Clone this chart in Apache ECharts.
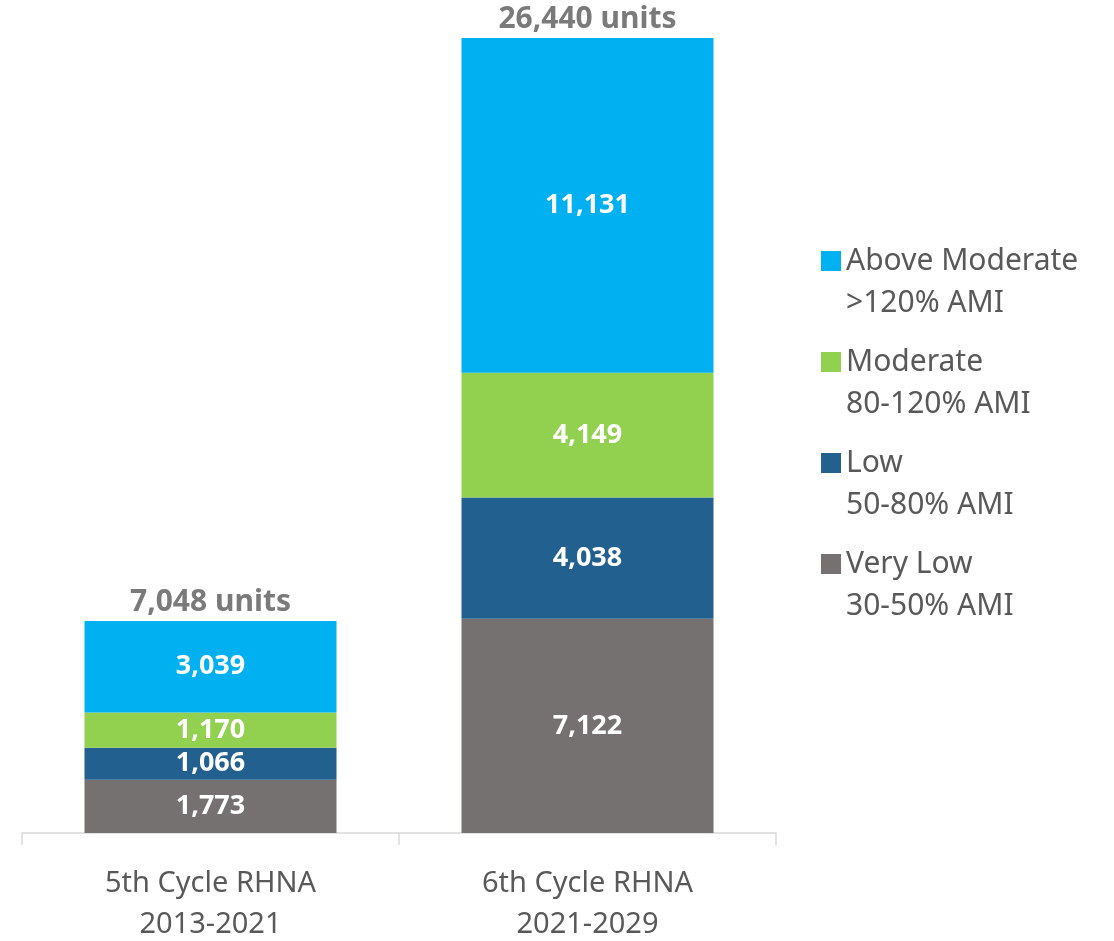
<!DOCTYPE html>
<html>
<head>
<meta charset="utf-8">
<script src="https://cdn.jsdelivr.net/npm/echarts@6/dist/echarts.min.js"></script>
<style>
  html, body { margin: 0; padding: 0; background: #fff; }
  #chart { width: 1114px; height: 941px; }
</style>
</head>
<body>
<div id="chart"></div>
<script>
const categories = ['5th Cycle RHNA\n2013-2021', '6th Cycle RHNA\n2021-2029'];
const veryLow = [1773, 7122];
const low = [1066, 4038];
const moderate = [1170, 4149];
const aboveModerate = [3039, 11131];
const totals = [7048, 26440];

const seriesNames = ['Very Low', 'Low', 'Moderate', 'Above Moderate'];
const seriesSub = {
  'Very Low': '30-50% AMI',
  'Low': '50-80% AMI',
  'Moderate': '80-120% AMI',
  'Above Moderate': '>120% AMI'
};
const colors = ['#767171', '#22608F', '#92D050', '#00B0F0'];

const font = '"Segoe UI", "Noto Sans", sans-serif';
const fmt = v => v.toLocaleString('en-US');

const chart = echarts.init(document.getElementById('chart'));

const barLabel = {
  show: true,
  position: 'inside',
  color: '#fff',
  fontWeight: 'bold',
  fontSize: 27,
  fontFamily: font,
  formatter: p => fmt(p.value)
};

const stacks = [veryLow, low, moderate, aboveModerate].map((d, i) => ({
  name: seriesNames[i],
  type: 'bar',
  stack: 'units',
  barWidth: 252,
  data: d,
  itemStyle: { color: colors[i] },
  label: barLabel,
  emphasis: { disabled: true }
}));

chart.setOption({
  animation: false,
  grid: { left: 22, right: 338, top: 38, bottom: 108, outerBoundsMode: 'none' },
  legend: {
    orient: 'vertical',
    left: 816,
    top: 193,
    itemWidth: 20,
    itemHeight: 20,
    itemGap: -25,
    icon: 'rect',
    data: seriesNames.slice().reverse(),
    // leading empty line keeps the icon level with the first line
    formatter: name => '\n' + name + '\n' + seriesSub[name],
    textStyle: {
      color: '#595959',
      fontSize: 30,
      fontFamily: font,
      lineHeight: 42
    }
  },
  xAxis: {
    type: 'category',
    data: categories,
    axisLine: { lineStyle: { color: '#d9d9d9', width: 1.5 } },
    axisTick: { show: true, length: 12, lineStyle: { color: '#d9d9d9', width: 1.5 } },
    axisLabel: {
      color: '#595959',
      fontSize: 29,
      fontFamily: font,
      lineHeight: 41,
      margin: 30
    }
  },
  yAxis: {
    type: 'value',
    min: 0,
    max: 26440,
    show: false,
    splitLine: { show: false }
  },
  series: [
    ...stacks,
    {
      name: 'Total',
      type: 'scatter',
      data: totals,
      symbolSize: 0,
      silent: true,
      label: {
        show: true,
        position: 'top',
        distance: 4,
        color: '#595959',
        fontWeight: 'bold',
        fontSize: 30,
        fontFamily: font,
        formatter: p => fmt(p.value) + ' units'
      }
    }
  ]
});
</script>
</body>
</html>
